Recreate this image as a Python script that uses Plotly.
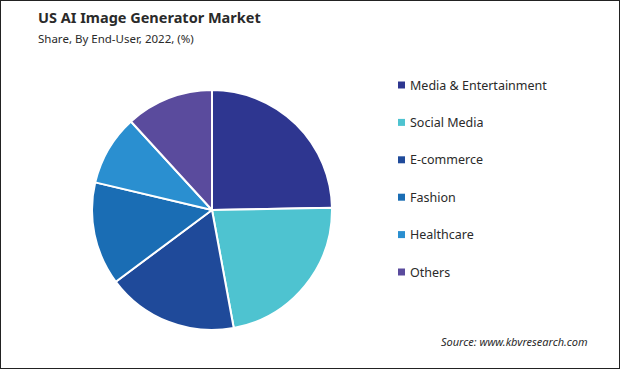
import plotly.graph_objects as go

categories = ["Media & Entertainment", "Social Media", "E-commerce", "Fashion", "Healthcare", "Others"]
shares = [24.7, 22.4, 17.7, 13.9, 9.5, 11.8]
colors = ["#2e3690", "#4ec3d0", "#1f4a9a", "#1a6db4", "#2a8fd0", "#5a4b9d"]

W, H = 620, 369
cx, cy, r = 212, 210, 120

fig = go.Figure(go.Pie(
    labels=categories, values=shares, sort=False, direction="clockwise", rotation=0,
    marker=dict(colors=colors, line=dict(color="white", width=2)),
    textinfo="none", hoverinfo="label+percent", showlegend=False,
    domain=dict(x=[(cx - r) / W, (cx + r) / W], y=[(H - cy - r) / H, (H - cy + r) / H]),
))

font = "Noto Sans"
ann = [
    dict(text="<b>US AI Image Generator Market</b>", x=36 / W, y=1 - 17 / H, xref="paper", yref="paper",
         xanchor="left", yanchor="middle", showarrow=False, font=dict(family=font, size=14.5, color="#2a2a2a")),
    dict(text="Share, By End-User, 2022, (%)", x=36 / W, y=1 - 38 / H, xref="paper", yref="paper",
         xanchor="left", yanchor="middle", showarrow=False, font=dict(family=font, size=11.5, color="#2a2a2a")),
    dict(text="<i>Source: www.kbvresearch.com</i>", x=590 / W, y=1 - 341 / H, xref="paper", yref="paper",
         xanchor="right", yanchor="middle", showarrow=False, font=dict(family=font, size=11, color="#2a2a2a")),
]
shapes = [dict(type="rect", xref="paper", yref="paper", x0=0, y0=0, x1=1, y1=1,
               line=dict(color="#222222", width=2))]
y0, dy = 85, 37.4
for i, (c, col) in enumerate(zip(categories, colors)):
    yy = y0 + i * dy
    shapes.append(dict(type="rect", xref="paper", yref="paper",
                       x0=398 / W, x1=405 / W, y0=1 - (yy + 3.5) / H, y1=1 - (yy - 3.5) / H,
                       fillcolor=col, line=dict(width=0)))
    ann.append(dict(text=c, x=408 / W, y=1 - yy / H, xref="paper", yref="paper", xanchor="left",
                    yanchor="middle", showarrow=False, font=dict(family=font, size=12.5, color="#2a2a2a")))

fig.update_layout(width=W, height=H, margin=dict(l=0, r=0, t=0, b=0), paper_bgcolor="white",
                  annotations=ann, shapes=shapes)
fig.write_html("out.html", config={"displayModeBar": False},
               post_script="document.body.style.margin='0';document.body.style.overflow='hidden';")
